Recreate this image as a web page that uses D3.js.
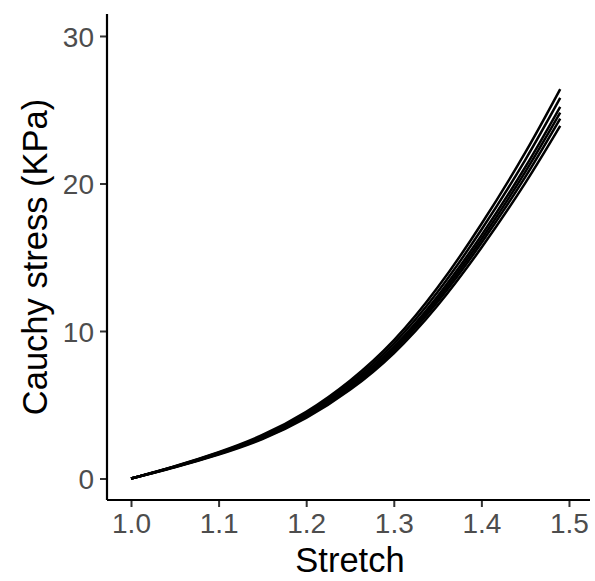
<!DOCTYPE html>
<html>
<head>
<meta charset="utf-8">
<script src="https://cdn.jsdelivr.net/npm/d3@7"></script>
<style>
  html, body { margin: 0; padding: 0; background: #fff; }
  svg { display: block; }
</style>
</head>
<body>
<svg id="chart" width="595" height="581"></svg>
<script>
// Stretch levels at which the stress curves are sampled
const stretch = [1.00, 1.05, 1.10, 1.15, 1.20, 1.25, 1.30, 1.35, 1.40, 1.45, 1.49];

// Cauchy stress (KPa) for each sample
const stressA = [0, 0.84, 1.79, 2.95, 4.52, 6.63, 9.36, 12.94, 17.25, 22.09, 26.4];
const stressB = [0, 0.82, 1.75, 2.88, 4.42, 6.48, 9.15, 12.64, 16.86, 21.59, 25.8];
const stressC = [0, 0.80, 1.71, 2.81, 4.32, 6.33, 8.94, 12.36, 16.48, 21.10, 25.2];
const stressD = [0, 0.79, 1.68, 2.77, 4.25, 6.23, 8.80, 12.16, 16.22, 20.77, 24.8];
const stressE = [0, 0.78, 1.66, 2.72, 4.18, 6.13, 8.66, 11.97, 15.96, 20.43, 24.4];
const stressF = [0, 0.76, 1.62, 2.67, 4.10, 6.01, 8.49, 11.73, 15.64, 20.02, 23.9];
const series = [stressA, stressB, stressC, stressD, stressE, stressF];

const xTicks = [1.0, 1.1, 1.2, 1.3, 1.4, 1.5];
const yTicks = [0, 10, 20, 30];

const svg = d3.select("#chart");
const panel = { left: 107, right: 590, top: 14, bottom: 500 };

const x = d3.scaleLinear().domain([0.9726, 1.524]).range([panel.left, panel.right]);
const y = d3.scaleLinear().domain([-1.458, 31.49]).range([panel.bottom, panel.top]);

const font = "'Liberation Sans', Arial, Helvetica, sans-serif";

// Stress-stretch curves
const line = d3.line()
  .x((d, i) => x(stretch[i]))
  .y(d => y(d))
  .curve(d3.curveNatural);

svg.append("g")
  .selectAll("path")
  .data(series)
  .join("path")
  .attr("d", line)
  .attr("fill", "none")
  .attr("stroke", "#000")
  .attr("stroke-width", 2.5);

// Axes
const xAxis = d3.axisBottom(x).tickValues(xTicks).tickFormat(d3.format(".1f"))
  .tickSize(7).tickPadding(5);
const yAxis = d3.axisLeft(y).tickValues(yTicks).tickFormat(d3.format("d"))
  .tickSize(7).tickPadding(6);

const gx = svg.append("g").attr("transform", `translate(0,${panel.bottom})`).call(xAxis);
const gy = svg.append("g").attr("transform", `translate(${panel.left},0)`).call(yAxis);

[gx, gy].forEach(g => {
  g.select(".domain").remove();
  g.selectAll(".tick line").attr("stroke", "#333").attr("stroke-width", 2);
  g.selectAll(".tick text")
    .attr("fill", "#4d4d4d")
    .style("font-family", font)
    .style("font-size", "28px");
});
gx.selectAll(".tick text").attr("dy", "0.75em");
gy.selectAll(".tick text").attr("dy", "0.36em");

// Axis lines
svg.append("line")
  .attr("x1", panel.left).attr("x2", panel.right)
  .attr("y1", panel.bottom).attr("y2", panel.bottom)
  .attr("stroke", "#000").attr("stroke-width", 2.2);
svg.append("line")
  .attr("x1", panel.left).attr("x2", panel.left)
  .attr("y1", panel.top).attr("y2", panel.bottom)
  .attr("stroke", "#000").attr("stroke-width", 2.2);

// Axis titles
svg.append("text")
  .attr("x", (x(1.0) + x(1.5)) / 2)
  .attr("y", 572)
  .attr("text-anchor", "middle")
  .style("font-family", font)
  .style("font-size", "34.5px")
  .attr("fill", "#000")
  .text("Stretch");

svg.append("text")
  .attr("transform", `translate(47,${(panel.top + panel.bottom) / 2}) rotate(-90)`)
  .attr("text-anchor", "middle")
  .style("font-family", font)
  .style("font-size", "34.5px")
  .attr("fill", "#000")
  .text("Cauchy stress (KPa)");
</script>
</body>
</html>
